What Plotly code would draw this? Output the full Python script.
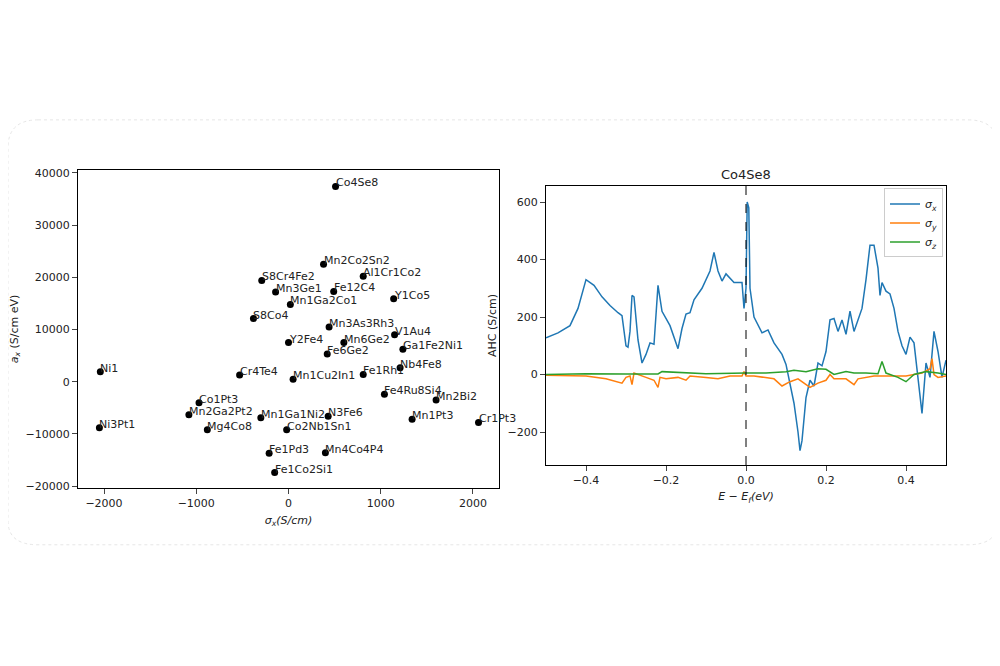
import plotly.graph_objects as go

# left panel: materials
names = ["Co4Se8", "Mn2Co2Sn2", "Al1Cr1Co2", "S8Cr4Fe2", "Mn3Ge1", "Fe12C4", "Y1Co5",
         "Mn1Ga2Co1", "S8Co4", "Mn3As3Rh3", "V1Au4", "Y2Fe4", "Mn6Ge2", "Ga1Fe2Ni1",
         "Fe6Ge2", "Nb4Fe8", "Ni1", "Cr4Te4", "Mn1Cu2In1", "Fe1Rh1", "Fe4Ru8Si4",
         "Mn2Bi2", "Co1Pt3", "Mn2Ga2Pt2", "Mn1Ga1Ni2", "N3Fe6", "Mn1Pt3", "Cr1Pt3",
         "Ni3Pt1", "Mg4Co8", "Co2Nb1Sn1", "Fe1Pd3", "Mn4Co4P4", "Fe1Co2Si1"]
sigma_x_mat = [510, 380, 810, -290, -140, 490, 1140, 20, -380, 440, 1150, 0, 600, 1240,
               420, 1210, -2040, -530, 50, 810, 1040, 1600, -970, -1080, -300, 430, 1340, 2060,
               -2050, -880, -20, -210, 400, -150]
a_x_mat = [37400, 22500, 20200, 19400, 17200, 17300, 15900, 14800, 12100, 10500, 9000, 7500,
           7500, 6200, 5300, 2700, 1900, 1300, 500, 1400, -2400, -3500, -4000, -6300, -6900, -6600,
           -7200, -7800, -8800, -9200, -9200, -13700, -13600, -17400]

# right panel: AHC of Co4Se8
e_x = [-0.5, -0.47, -0.44, -0.42, -0.40, -0.38, -0.36, -0.34, -0.32, -0.31, -0.30, -0.295, -0.29,
       -0.285, -0.28, -0.27, -0.26, -0.25, -0.24, -0.23, -0.22, -0.21, -0.19, -0.17, -0.16, -0.15,
       -0.14, -0.13, -0.11, -0.09, -0.08, -0.07, -0.06, -0.05, -0.03, -0.01, -0.005, 0.0, 0.003,
       0.007, 0.01, 0.02, 0.04, 0.055, 0.07, 0.09, 0.10, 0.11, 0.12, 0.13, 0.135, 0.14, 0.15, 0.16,
       0.17, 0.18, 0.19, 0.20, 0.21, 0.22, 0.23, 0.24, 0.25, 0.26, 0.27, 0.29, 0.30, 0.31, 0.32,
       0.33, 0.335, 0.34, 0.35, 0.36, 0.37, 0.38, 0.39, 0.40, 0.41, 0.42, 0.43, 0.44, 0.45, 0.46,
       0.47, 0.48, 0.49, 0.5]
s_x = [128, 145, 170, 230, 330, 310, 270, 240, 215, 205, 100, 95, 150, 275, 270, 120, 40, 70,
       110, 105, 310, 220, 170, 90, 160, 210, 215, 260, 300, 360, 425, 360, 325, 350, 320, 320,
       230, 300, 600, 580, 300, 200, 145, 155, 110, 70, 35, -30, -100, -200, -265, -230, -80, -20,
       -40, 40, 30, 80, 190, 195, 150, 190, 140, 220, 150, 230, 330, 450, 450, 370, 275, 320, 290,
       280, 230, 150, 100, 70, 130, 110, -20, -135, 40, -10, 150, 80, -10, 50]
e_y = [-0.5, -0.4, -0.35, -0.32, -0.31, -0.30, -0.29, -0.285, -0.28, -0.25, -0.23, -0.22, -0.215,
       -0.2, -0.17, -0.15, -0.14, -0.1, -0.07, -0.04, -0.01, -0.005, 0.0, 0.02, 0.05, 0.07, 0.09,
       0.11, 0.13, 0.16, 0.18, 0.2, 0.21, 0.22, 0.25, 0.27, 0.28, 0.32, 0.35, 0.4, 0.44, 0.46,
       0.465, 0.47, 0.48, 0.5]
s_y = [-3, -5, -15, -25, -30, -10, -5, -35, 5, -10, -20, -45, -10, -15, -10, -20, -5, -10, -15,
       -5, -5, 10, -5, -5, -10, -15, -40, -25, -15, -45, -30, -20, 0, -15, -15, -35, -15, -5, -5,
       -5, 5, 20, 55, 0, -10, -5]
e_z = [-0.5, -0.4, -0.3, -0.22, -0.21, -0.1, 0.0, 0.05, 0.1, 0.12, 0.15, 0.18, 0.2, 0.22, 0.25,
       0.27, 0.3, 0.33, 0.34, 0.35, 0.38, 0.4, 0.42, 0.45, 0.48, 0.5]
s_z = [0, 3, 2, 2, 10, 3, 5, 5, 10, 15, 10, 20, 18, 0, 10, 5, 5, 3, 45, 5, -10, -25, 0, 10, 5, 0]

fig = go.Figure()
fig.add_trace(go.Scatter(x=sigma_x_mat, y=a_x_mat, mode="markers",
                         marker=dict(color="black", size=7), showlegend=False,
                         xaxis="x", yaxis="y"))
fig.add_trace(go.Scatter(x=e_x, y=s_x, mode="lines", line=dict(color="#1f77b4", width=1.5),
                         name="<i>σ<sub>x</sub></i>", xaxis="x2", yaxis="y2"))
fig.add_trace(go.Scatter(x=e_y, y=s_y, mode="lines", line=dict(color="#ff7f0e", width=1.5),
                         name="<i>σ<sub>y</sub></i>", xaxis="x2", yaxis="y2"))
fig.add_trace(go.Scatter(x=e_z, y=s_z, mode="lines", line=dict(color="#2ca02c", width=1.5),
                         name="<i>σ<sub>z</sub></i>", xaxis="x2", yaxis="y2"))

labels = [dict(text=n, x=sx, y=ay, xref="x", yref="y", xanchor="left", yanchor="bottom",
               yshift=-5, xshift=-2, showarrow=False, font=dict(size=11, color="#222"))
          for n, sx, ay in zip(names, sigma_x_mat, a_x_mat)]

# page is offset by the body margin (~8px), compensate here
dx, dy = -0.008, 0.012
ax = dict(showgrid=False, zeroline=False, showline=True, mirror=True, linecolor="black",
          ticks="outside", tickfont=dict(size=11, color="#222"), automargin=False)
fig.update_layout(
    width=1000, height=666, margin=dict(l=0, r=0, t=0, b=0),
    paper_bgcolor="white", plot_bgcolor="white",
    font=dict(family="DejaVu Sans", color="#222"),
    xaxis=dict(ax, domain=[0.078 + dx, 0.499 + dx], range=[-2282, 2282], tickvals=[-2000, -1000, 0, 1000, 2000],
               title=dict(text="<i>σ<sub>x</sub>(S/cm)</i>", font=dict(size=11), standoff=6)),
    yaxis=dict(ax, domain=[0.267 + dy, 0.745 + dy], range=[-20380, 40575], tickformat="d",
               tickvals=[-20000, -10000, 0, 10000, 20000, 30000, 40000],
               title=dict(text="<i>a<sub>x</sub></i> (S/cm eV)", font=dict(size=11), standoff=6)),
    xaxis2=dict(ax, domain=[0.546 + dx, 0.946 + dx], range=[-0.5, 0.5], tickvals=[-0.4, -0.2, 0, 0.2, 0.4],
                tickformat=".1f", anchor="y2",
                title=dict(text="<i>E − E<sub>f</sub>(eV)</i>", font=dict(size=11), standoff=6)),
    yaxis2=dict(ax, domain=[0.3018 + dy, 0.7207 + dy], range=[-314.8, 655.6], tickvals=[-200, 0, 200, 400, 600],
                anchor="x2", title=dict(text="AHC (S/cm)", font=dict(size=11), standoff=8)),
    legend=dict(x=0.943 + dx, y=0.717 + dy, xanchor="right", yanchor="top", bordercolor="#ccc", borderwidth=1,
                bgcolor="white", font=dict(size=11)),
    annotations=labels + [dict(text="Co4Se8", x=0.746 + dx, y=0.724 + dy, xref="paper", yref="paper",
                               xanchor="center", yanchor="bottom", showarrow=False, font=dict(size=13))],
    shapes=[
        dict(type="line", xref="x2", yref="paper", x0=0, x1=0, y0=0.3018 + dy, y1=0.7207 + dy,
             line=dict(color="black", width=1, dash="dash")),
        dict(type="path", xref="paper", yref="paper",
             path="M 0.03,0.832 L 0.96,0.832 Q 0.99,0.832 0.99,0.79 L 0.99,0.23 Q 0.99,0.194 0.96,0.194 "
                  "L 0.03,0.194 Q 0.0,0.194 0.0,0.23 L 0.0,0.79 Q 0.0,0.832 0.03,0.832 Z",
             line=dict(color="#e6e6e6", width=1, dash="dot"), layer="below"),
    ],
)
fig.write_html("out.html")
